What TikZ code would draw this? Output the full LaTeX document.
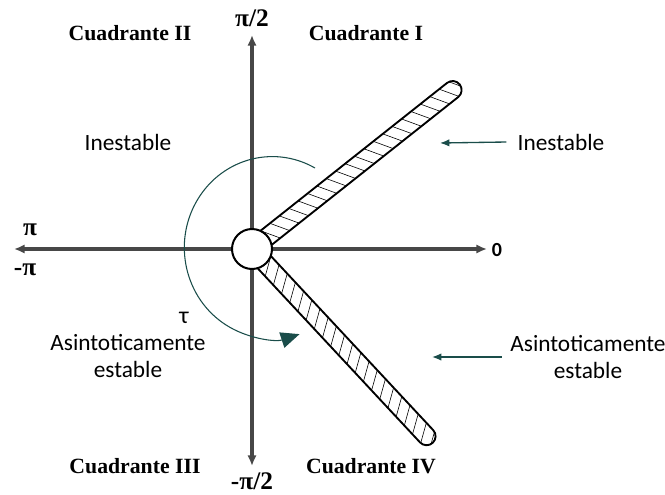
\documentclass[tikz,border=0pt]{standalone}
\usepackage{fontspec}
\setmainfont{Liberation Serif}
\newfontfamily\calfont{Carlito}
\usetikzlibrary{arrows.meta,positioning,calc}
\definecolor{AxisGray}{HTML}{474747}
\definecolor{PhaseTeal}{HTML}{1A4D4A}

\begin{document}
\begin{tikzpicture}[
    x=0.75pt,y=0.75pt,
    axis/.style={AxisGray,line width=2.6pt,{Latex[length=8pt,width=7pt]}-{Latex[length=8pt,width=7pt]}},
    quad/.style={font=\fontsize{16.3}{19}\selectfont\bfseries},
    lbl/.style={font=\calfont\fontsize{17.5}{20}\selectfont,align=center},
    ang/.style={font=\fontsize{19}{22}\selectfont\bfseries,inner sep=1pt},
    hatch/.style={black,line width=0.45pt},
    rim/.style={black,line width=1.4pt},
    arr/.style={-{Latex[length=7pt,width=5.5pt]},PhaseTeal,line width=1pt}
  ]
  \useasboundingbox (-252,-245) rectangle (413,249);
  % axes
  \coordinate (xl) at (-238,0);
  \coordinate (xr) at (235,0);
  \coordinate (yb) at (0,-217);
  \coordinate (yt) at (0,214);
  \draw[axis] (xl) -- (xr);
  \draw[axis] (yb) -- (yt);
  % hatched arms
  \foreach \ang in {38.4,-47}{
    \begin{scope}[rotate=\ang]
      \fill[white] (0,9) -- (256,9) arc[start angle=90,end angle=-90,radius=9] -- (0,-9) -- cycle;
      \begin{scope}
        \clip (0,9) -- (256,9) arc[start angle=90,end angle=-90,radius=9] -- (0,-9) -- cycle;
        \foreach \s in {-6,6,...,270} \draw[hatch] (\s,9) -- ++(11,-18);
      \end{scope}
      \draw[rim,line join=round] (0,9) -- (256,9) arc[start angle=90,end angle=-90,radius=9] -- (0,-9);
    \end{scope}
  }
  \node[circle,draw,fill=white,line width=1.5pt,minimum size=30pt,inner sep=0pt] (o) at (0,0) {};
  % turning angle
  \coordinate (tauS) at (63,81);
  \draw[PhaseTeal,line width=0.8pt,-{Triangle[length=14pt,width=12pt]}]
    (tauS) arc[start angle=61,end angle=288,x radius=88,y radius=91];
  \node[font=\calfont\fontsize{18}{20}\selectfont] (tau) at (-68,-69) {τ};
  % axis values
  \node[ang] (top) at (0,231) {π/2};
  \node[ang] (bot) at (0,-232) {-π/2};
  \node[ang] (pi) at (-222,19) {π};
  \node[ang] (mpi) at (-227,-21) {-π};
  \node[font=\calfont\fontsize{15}{18}\selectfont\bfseries] (zero) at (245,-1) {0};
  % quadrants
  \node[quad] (q2) at (-122,216) {Cuadrante II};
  \node[quad] (q1) at (114,216) {Cuadrante I};
  \node[quad] (q3) at (-117,-217) {Cuadrante III};
  \node[quad] (q4) at (119,-217) {Cuadrante IV};
  % regions
  \node[lbl] (inL) at (-124,107) {Inestable};
  \node[lbl] (inR) at (309,107) {Inestable};
  \node[lbl] (asL) at (-124,-107) {Asintoticamente\\estable};
  \node[lbl] (asR) at (336,-108) {Asintoticamente\\estable};
  \coordinate (inTip) at (188,106);
  \coordinate (asTip) at (180,-108);
  \draw[arr] ([xshift=-5pt]inR.west) -- (inTip);
  \draw[arr] ([xshift=-3pt]asR.west |- asTip) -- (asTip);
\end{tikzpicture}
\end{document}
